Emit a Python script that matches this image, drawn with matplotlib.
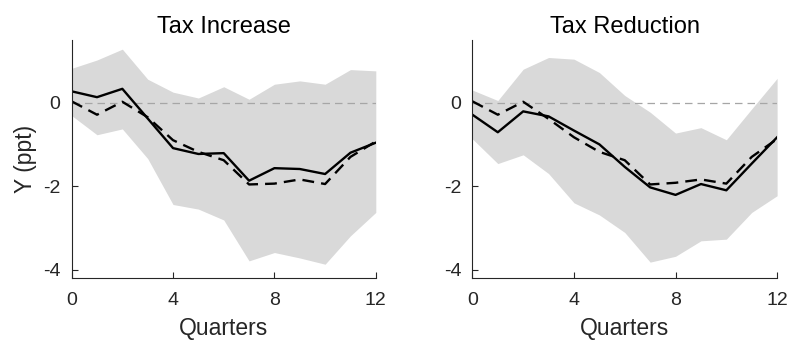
import matplotlib
matplotlib.use('Agg')
import matplotlib.pyplot as plt
import numpy as np

plt.rcParams['font.family'] = ['Liberation Sans', 'DejaVu Sans']
plt.rcParams['axes.unicode_minus'] = False

quarters = np.arange(13)

# Tax increase
inc_point = [0.27, 0.13, 0.33, -0.38, -1.09, -1.23, -1.21, -1.87, -1.57, -1.59, -1.71, -1.20, -0.96]
inc_base = [0.03, -0.29, 0.02, -0.35, -0.90, -1.18, -1.38, -1.96, -1.94, -1.84, -1.95, -1.30, -0.93]
inc_upper = [0.82, 1.02, 1.28, 0.56, 0.25, 0.11, 0.38, 0.08, 0.44, 0.52, 0.44, 0.79, 0.76]
inc_lower = [-0.31, -0.77, -0.63, -1.34, -2.44, -2.55, -2.81, -3.79, -3.59, -3.72, -3.87, -3.19, -2.63]

# Tax reduction
red_point = [-0.29, -0.71, -0.21, -0.33, -0.67, -1.00, -1.54, -2.03, -2.21, -1.95, -2.10, -1.46, -0.83]
red_base = [0.03, -0.29, 0.02, -0.39, -0.83, -1.18, -1.38, -1.96, -1.92, -1.84, -1.94, -1.30, -0.87]
red_upper = [0.30, 0.05, 0.80, 1.08, 1.04, 0.72, 0.17, -0.23, -0.73, -0.60, -0.89, -0.15, 0.58]
red_lower = [-0.87, -1.46, -1.25, -1.70, -2.40, -2.69, -3.11, -3.82, -3.68, -3.31, -3.27, -2.63, -2.23]

titles = ['Tax Increase', 'Tax Reduction']

fig = plt.figure(figsize=(7.9, 3.43), dpi=100)
ax1 = fig.add_axes([0.0907, 0.1895, 0.385, 0.694])
ax2 = fig.add_axes([0.598, 0.1895, 0.3857, 0.694])

panels = [(ax1, inc_point, inc_base, inc_upper, inc_lower),
          (ax2, red_point, red_base, red_upper, red_lower)]

for i, (ax, pt, base, up, lo) in enumerate(panels):
    ax.fill_between(quarters, lo, up, color='#d9d9d9', linewidth=0)
    ax.axhline(0, color='#a6a6a6', linestyle=(0, (6, 4)), linewidth=0.9)
    ax.plot(quarters, pt, color='black', linewidth=1.7)
    ax.plot(quarters, base, color='black', linewidth=1.7, linestyle=(0, (5, 3)))
    ax.set_xlim(0, 12)
    ax.set_ylim(-4.2, 1.5)
    ax.set_xticks([0, 4, 8, 12])
    ax.set_yticks([-4, -2, 0])
    ax.spines['top'].set_visible(False)
    ax.spines['right'].set_visible(False)
    ax.spines['left'].set_color('#262626')
    ax.spines['bottom'].set_color('#262626')
    ax.tick_params(direction='in', length=4, labelsize=14, colors='#262626')
    ax.tick_params(axis='x', pad=10)
    ax.tick_params(axis='y', pad=8)
    ax.set_title(titles[i], fontsize=17, color='black', pad=5)
    ax.set_xlabel('Quarters', fontsize=16.5, color='#262626', labelpad=6)

ax1.set_ylabel('Y (ppt)', fontsize=16.5, color='#262626', labelpad=4)

fig.savefig('out.png', dpi=100)
